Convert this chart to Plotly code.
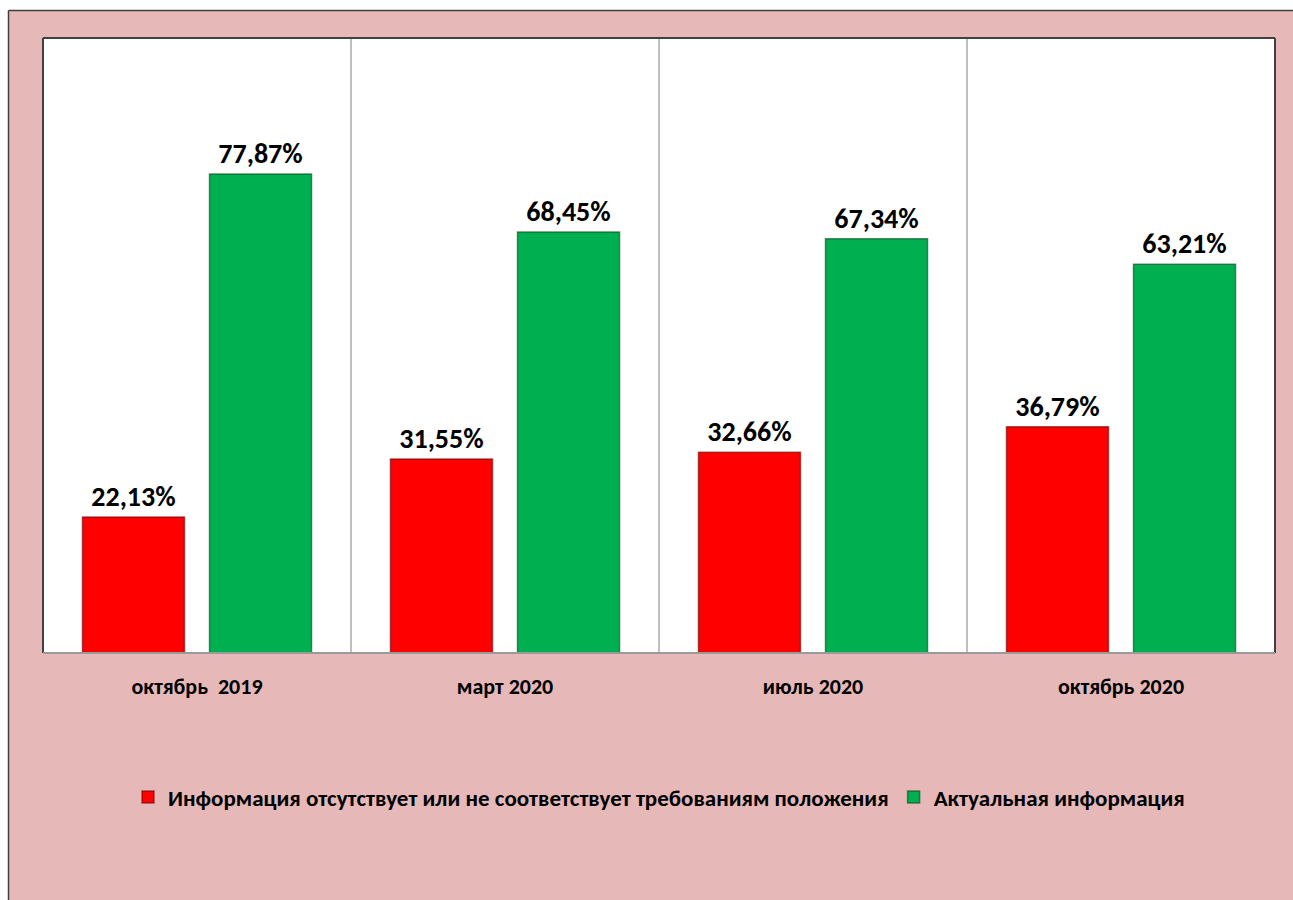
import plotly.graph_objects as go

categories = ["октябрь  2019", "март 2020", "июль 2020", "октябрь 2020"]
missing = [22.13, 31.55, 32.66, 36.79]
actual = [77.87, 68.45, 67.34, 63.21]
series_names = ["Информация отсутствует или не соответствует требованиям положения",
                "Актуальная информация"]

def fmt(v):
    return f"{v:.2f}".replace(".", ",") + "%"

FONT = "Carlito, Lato, 'Noto Sans', sans-serif"
PINK = "#E6B8B7"

fig = go.Figure()
fig.add_trace(go.Bar(
    x=categories, y=missing, name=series_names[0],
    marker=dict(color="#FF0000", line=dict(color="rgba(110,0,0,0.6)", width=1.5)),
    text=[fmt(v) for v in missing], textposition="outside",
    textfont=dict(family=FONT, size=28, color="black", weight="bold"),
    cliponaxis=False,
))
fig.add_trace(go.Bar(
    x=categories, y=actual, name=series_names[1],
    marker=dict(color="#00B050", line=dict(color="rgba(0,70,25,0.6)", width=1.5)),
    text=[fmt(v) for v in actual], textposition="outside",
    textfont=dict(family=FONT, size=28, color="black", weight="bold"),
    cliponaxis=False,
))

L, R, T, B = 43, 18, 38, 247
W, H = 1293, 900
pw, ph = W - L - R, H - T - B

def px_x(p):
    return (p - L) / pw

def px_y(p):
    return (H - B - p) / ph

shapes = []
# white strips outside the chart border
shapes.append(dict(type="rect", xref="paper", yref="paper", x0=px_x(-5), x1=px_x(8), y0=px_y(905), y1=px_y(-5),
                   fillcolor="white", line=dict(width=0), layer="above"))
shapes.append(dict(type="rect", xref="paper", yref="paper", x0=px_x(-5), x1=px_x(1300), y0=px_y(10), y1=px_y(-5),
                   fillcolor="white", line=dict(width=0), layer="above"))
# chart border lines
shapes.append(dict(type="line", xref="paper", yref="paper", x0=px_x(8.5), x1=px_x(8.5), y0=px_y(10.5), y1=px_y(905),
                   line=dict(color="#404040", width=1.5)))
shapes.append(dict(type="line", xref="paper", yref="paper", x0=px_x(8.5), x1=px_x(1300), y0=px_y(10.5), y1=px_y(10.5),
                   line=dict(color="#404040", width=1.5)))
# category separators
for i in range(len(categories) - 1):
    shapes.append(dict(type="line", xref="x", yref="paper", x0=i + 0.5, x1=i + 0.5, y0=0, y1=1,
                       line=dict(color="#808080", width=1), layer="below"))
# plot area frame
shapes.append(dict(type="line", xref="paper", yref="paper", x0=0, x1=1, y0=1, y1=1, line=dict(color="#404040", width=2)))
shapes.append(dict(type="line", xref="paper", yref="paper", x0=0, x1=0, y0=0, y1=1, line=dict(color="#404040", width=2)))
shapes.append(dict(type="line", xref="paper", yref="paper", x0=1, x1=1, y0=0, y1=1, line=dict(color="#404040", width=2)))
shapes.append(dict(type="line", xref="paper", yref="paper", x0=0, x1=1, y0=0, y1=0, line=dict(color="#9A9A9A", width=2)))

fig.update_layout(
    width=W, height=H,
    margin=dict(l=L, r=R, t=T, b=B, autoexpand=False),
    paper_bgcolor=PINK, plot_bgcolor="white",
    barmode="group", bargap=0.175, bargroupgap=0.197,
    showlegend=True,
    legend=dict(orientation="h", x=0.5, xanchor="center", y=px_y(797), yanchor="middle",
                font=dict(family=FONT, size=23, color="black", weight="bold"),
                itemwidth=30, bgcolor="rgba(0,0,0,0)", traceorder="normal"),
    xaxis=dict(type="category", showgrid=False, showline=False, ticks="",
               ticklabelstandoff=18,
               tickfont=dict(family=FONT, size=22, color="black", weight="bold")),
    yaxis=dict(range=[0, 100], showgrid=False, showline=False, showticklabels=False, ticks="", zeroline=False),
    shapes=shapes,
    font=dict(family=FONT),
)

fig.write_html("out.html", config={"displayModeBar": False})

# remove default page margin so the figure sits at the window origin
with open("out.html", "r", encoding="utf-8") as f:
    html = f.read()
html = html.replace("<head>", "<head><style>html,body{margin:0;padding:0;overflow:hidden;}</style>", 1)
with open("out.html", "w", encoding="utf-8") as f:
    f.write(html)
